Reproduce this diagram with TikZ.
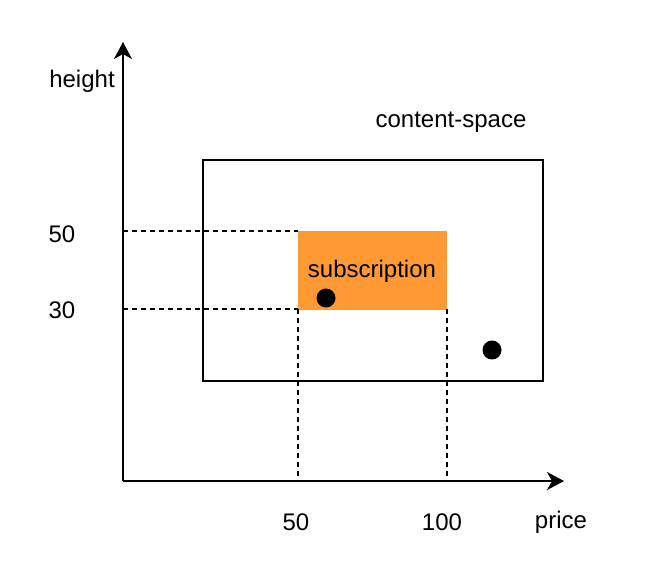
\documentclass[tikz,border=0pt]{standalone}
\usepackage{fontspec}
\setmainfont{Liberation Sans}
\usetikzlibrary{arrows.meta}

\begin{document}
\begin{tikzpicture}[x=1pt, y=-1pt, line width=2pt,
  lbl/.style={font=\fontsize{24}{28}\selectfont, inner sep=0pt},
  axis/.style={-{Stealth[length=17pt, width=18pt, inset=5pt]}},
  guide/.style={dashed, line width=1.5pt, dash pattern=on 5pt off 4pt},
  point/.style={fill=black, draw=none}]
  %%%%% START %%%%%

  \useasboundingbox (0, 0) rectangle (646, 562);

  % content space
  \draw (203, 160) rectangle (543, 381);
  \node[lbl] (space) at (451, 122) {content-space};

  % subscription region
  \fill[fill={rgb,255:red,255;green,153;blue,51}] (298, 231) rectangle (447, 310);
  \node[lbl] (sub) at (372, 271) {subscription};

  % guides
  \draw[guide] (123, 231) -- (298, 231);
  \draw[guide] (123, 309) -- (298, 309);
  \draw[guide] (298, 309) -- (298, 481);
  \draw[guide] (447, 309) -- (447, 481);

  % axes
  \draw[axis] (123, 481) -- (123, 42);
  \draw[axis] (123, 481) -- (564, 481);

  % points
  \fill[point] (326, 298) circle (9.5);
  \fill[point] (492, 350) circle (9.5);

  % labels
  \node[lbl] (height) at (82, 81) {height};
  \node[lbl] (y50) at (62, 234) {50};
  \node[lbl] (y30) at (62, 310) {30};
  \node[lbl] (x50) at (296, 522) {50};
  \node[lbl] (x100) at (442, 522) {100};
  \node[lbl] (price) at (561, 522) {price};

  %%%%% END %%%%%
\end{tikzpicture}
\end{document}
